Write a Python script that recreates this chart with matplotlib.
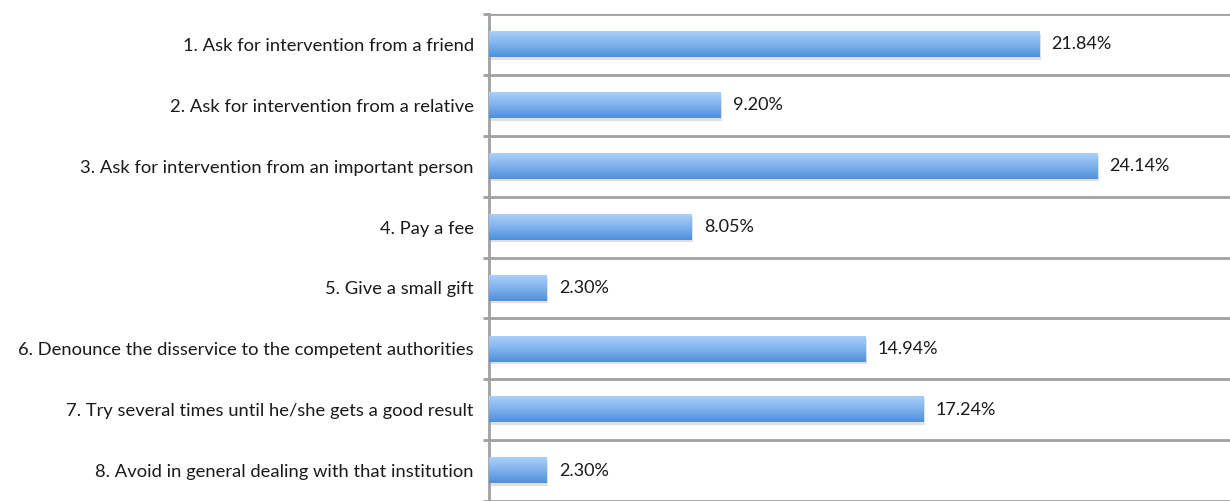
import numpy as np
import matplotlib
matplotlib.use("Agg")
import matplotlib.pyplot as plt

categories = [
    "1. Ask for intervention from a friend",
    "2. Ask for intervention from a relative",
    "3. Ask for intervention from an important person",
    "4. Pay a fee",
    "5. Give a small gift",
    "6. Denounce the disservice to the competent authorities",
    "7. Try several times until he/she gets a good result",
    "8. Avoid in general dealing with that institution",
]
values = [21.84, 9.20, 24.14, 8.05, 2.30, 14.94, 17.24, 2.30]
value_labels = ["21.84%", "9.20%", "24.14%", "8.05%", "2.30%", "14.94%", "17.24%", "2.30%"]

plt.rcParams["font.family"] = ["Lato", "DejaVu Sans"]

fig = plt.figure(figsize=(12.3, 5.01), dpi=100)
ax = fig.add_axes([489 / 1230, 0, 1 - 489 / 1230, 1 - 14 / 501])

y = np.arange(len(categories))
bar_h = 0.42

# soft shadow under each bar
ax.barh(y + 0.04, values, height=bar_h, left=0.06, color="#000000", alpha=0.12, zorder=2)
bars = ax.barh(y, values, height=bar_h, color="none", zorder=3)

grad = np.linspace(0, 1, 64).reshape(-1, 1)
cmap = matplotlib.colors.LinearSegmentedColormap.from_list("blu", ["#a9cff8", "#7fb2ec", "#4f90d9"])
for b in bars:
    x0, y0 = b.get_x(), b.get_y()
    w, h = b.get_width(), b.get_height()
    ax.imshow(grad, cmap=cmap, aspect="auto", extent=(x0, x0 + w, y0 + h, y0), zorder=3)

for yi, v, lab in zip(y, values, value_labels):
    ax.text(v + 0.48, yi, lab, va="center", ha="left", fontsize=13, color="#1a1a1a")

ax.set_xlim(0, 29.4)
ax.set_ylim(7.5 - 5.0 / 61.6, -0.5)

ax.set_yticks(y)
ax.set_yticklabels(categories, fontsize=13.2, color="#1a1a1a")
ax.set_yticks(np.arange(-0.5, 8, 1), minor=True)
ax.tick_params(axis="y", which="major", length=0, pad=11)
ax.tick_params(axis="y", which="minor", length=4, width=2, color="#a0a0a0", direction="out")
ax.grid(axis="y", which="minor", color="#a0a0a0", linewidth=2, zorder=1)
ax.set_xticks([])

for s in ["top", "right", "bottom"]:
    ax.spines[s].set_visible(False)
ax.spines["left"].set_color("#a0a0a0")
ax.spines["left"].set_linewidth(2)

fig.savefig("out.png", dpi=100)
